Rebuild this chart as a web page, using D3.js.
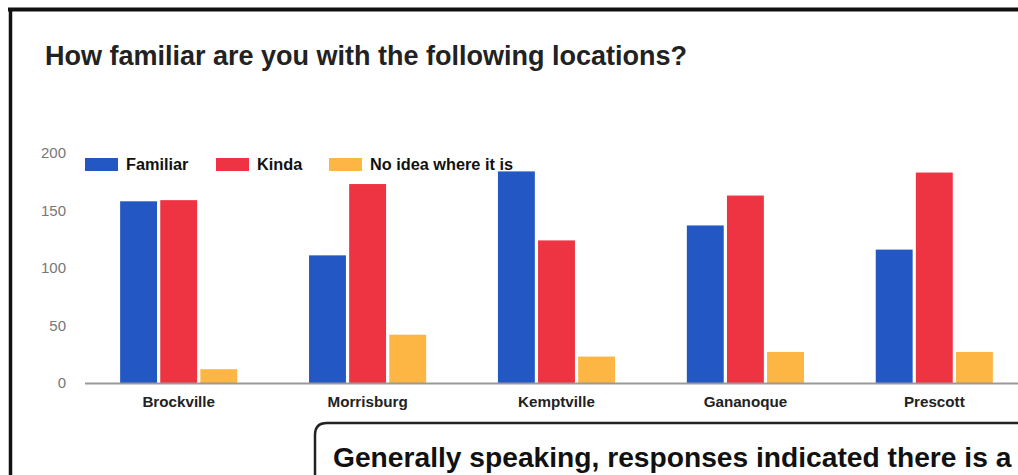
<!DOCTYPE html>
<html>
<head>
<meta charset="utf-8">
<script src="https://cdn.jsdelivr.net/npm/d3@7"></script>
<style>
  html, body { margin: 0; padding: 0; background: #fff; }
  svg { display: block; }
</style>
</head>
<body>
<svg id="chart" width="1018" height="475"></svg>
<script>
const categories = ["Brockville", "Morrisburg", "Kemptville", "Gananoque", "Prescott"];
const seriesNames = ["Familiar", "Kinda", "No idea where it is"];
const familiar = [158, 111, 184, 137, 116];
const kinda = [159, 173, 124, 163, 183];
const noIdea = [12, 42, 23, 27, 27];
const yTicks = [0, 50, 100, 150, 200];
const colors = ["#2358c4", "#ee3442", "#fdb543"];
const titleText = "How familiar are you with the following locations?";
const noteText = "Generally speaking, responses indicated there is a";

const seriesValues = [familiar, kinda, noIdea];
const rows = categories.map((c, i) => ({
  category: c,
  values: seriesNames.map((s, j) => ({ series: s, value: seriesValues[j][i] }))
}));

const svg = d3.select("#chart");
const font = "'Liberation Sans', Arial, sans-serif";

svg.append("rect").attr("width", 1018).attr("height", 475).attr("fill", "#fff");

// frame lines
svg.append("line").attr("x1", 8).attr("x2", 1018).attr("y1", 9.5).attr("y2", 9.5)
  .attr("stroke", "#111").attr("stroke-width", 4);
svg.append("line").attr("x1", 10.5).attr("x2", 10.5).attr("y1", 8).attr("y2", 475)
  .attr("stroke", "#111").attr("stroke-width", 3.5);

// title
svg.append("text").attr("x", 45).attr("y", 65)
  .attr("font-family", font).attr("font-size", 27).attr("font-weight", "bold").attr("fill", "#222")
  .text(titleText);

const y = d3.scaleLinear().domain([0, 200]).range([383, 153]);
const x0 = d3.scaleBand().domain(categories).range([85, 1028]).paddingInner(0.38).paddingOuter(0.186);
const x1 = d3.scaleBand().domain(seriesNames).range([0, x0.bandwidth()]).paddingInner(0.08);
const color = d3.scaleOrdinal().domain(seriesNames).range(colors);

// y axis labels
const yAxis = svg.append("g").attr("transform", "translate(66,0)")
  .call(d3.axisLeft(y).tickValues(yTicks).tickSize(0).tickPadding(0));
yAxis.select(".domain").remove();
yAxis.selectAll("text").attr("font-family", font).attr("font-size", 15).attr("fill", "#777");

// bars
const groups = svg.append("g").selectAll("g").data(rows).join("g")
  .attr("transform", d => `translate(${x0(d.category)},0)`);
groups.selectAll("rect").data(d => d.values).join("rect")
  .attr("x", d => x1(d.series))
  .attr("width", x1.bandwidth())
  .attr("y", d => y(d.value))
  .attr("height", d => y(0) - y(d.value))
  .attr("fill", d => color(d.series));

// baseline
svg.append("line").attr("x1", 85).attr("x2", 1018).attr("y1", y(0) + 0.5).attr("y2", y(0) + 0.5)
  .attr("stroke", "#999").attr("stroke-width", 2);

// x axis labels
const xAxis = svg.append("g").attr("transform", `translate(0,${y(0)})`)
  .call(d3.axisBottom(x0).tickSize(0).tickPadding(13));
xAxis.select(".domain").remove();
xAxis.selectAll("text").attr("font-family", font).attr("font-size", 15.2)
  .attr("font-weight", "bold").attr("fill", "#222");

// legend
const legendX = [85, 216, 329];
const legend = svg.append("g").selectAll("g").data(seriesNames).join("g")
  .attr("transform", (d, i) => `translate(${legendX[i]},158)`);
legend.append("rect").attr("width", 33).attr("height", 13).attr("fill", d => color(d));
legend.append("text").attr("x", 41).attr("y", 12)
  .attr("font-family", font).attr("font-size", 16.3).attr("font-weight", "bold").attr("fill", "#111")
  .text(d => d);

// bottom note box
svg.append("path")
  .attr("d", "M315,480 L315,435 Q315,423 327,423 L1030,423")
  .attr("fill", "#fff").attr("stroke", "#222").attr("stroke-width", 2.5);
svg.append("text").attr("x", 333).attr("y", 467)
  .attr("font-family", font).attr("font-size", 28.2).attr("font-weight", "bold").attr("fill", "#111")
  .text(noteText);
</script>
</body>
</html>
